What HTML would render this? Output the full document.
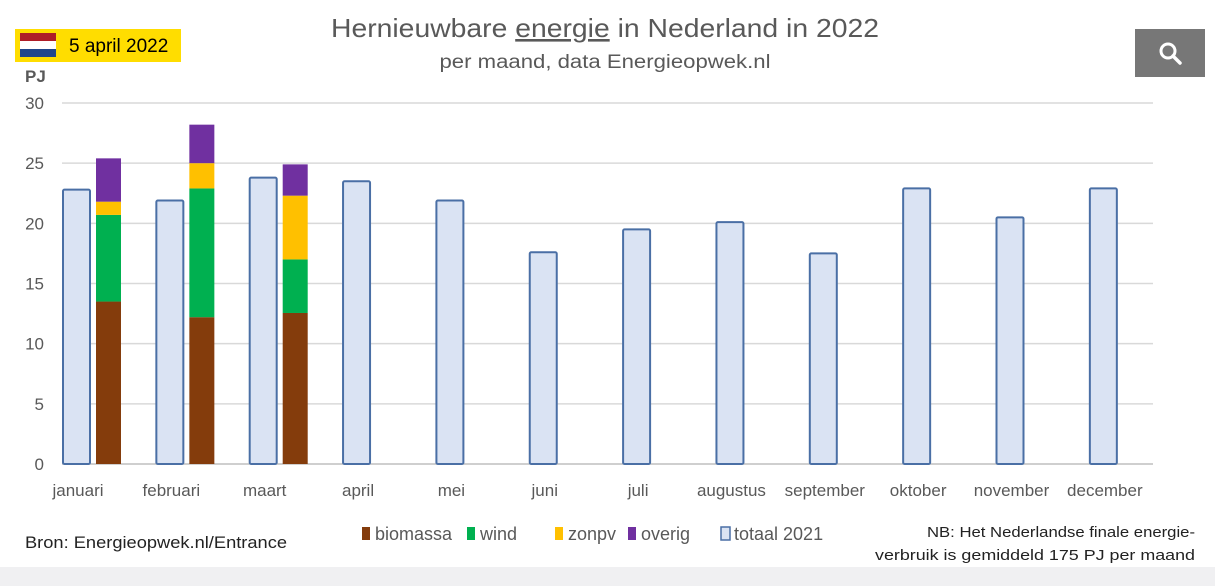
<!DOCTYPE html>
<html><head><meta charset="utf-8"><style>
html,body{margin:0;padding:0;background:#fff;width:1215px;height:586px;overflow:hidden;font-family:"Liberation Sans",sans-serif}
svg{position:absolute;left:0;top:0}
</style></head><body>
<svg width="1215" height="586" viewBox="0 0 1215 586">
<rect x="0" y="567" width="1215" height="19" fill="#f0f0f2"/>
<g>
<rect x="15" y="29" width="166" height="33" fill="#ffdd00"/>
<rect x="20" y="33" width="36" height="8" fill="#ae1c28"/>
<rect x="20" y="41" width="36" height="8" fill="#ffffff"/>
<rect x="20" y="49" width="36" height="8" fill="#21468b"/>
<text x="69" y="52" font-size="19" fill="#000">5 april 2022</text>
</g>
<g>
<rect x="1135" y="29" width="70" height="48" fill="#777"/>
<circle cx="1168" cy="51" r="7" fill="none" stroke="#fff" stroke-width="3"/>
<line x1="1173" y1="56" x2="1180" y2="63" stroke="#fff" stroke-width="3.5" stroke-linecap="round"/>
</g>
<text x="605" y="37" font-size="26" fill="#595959" text-anchor="middle" textLength="548" lengthAdjust="spacingAndGlyphs">Hernieuwbare <tspan text-decoration="underline">energie</tspan> in Nederland in 2022</text>
<text x="605" y="68" font-size="19" fill="#595959" text-anchor="middle" textLength="331" lengthAdjust="spacingAndGlyphs">per maand, data Energieopwek.nl</text>
<text x="25" y="82" font-size="17" font-weight="bold" fill="#595959">PJ</text>
<g id="grid"></g>
<g id="bars"></g>
<g id="xlabels"></g>
<g font-size="18" fill="#595959">
<rect x="362" y="527" width="8" height="13" fill="#843c0c"/><text x="375" y="540">biomassa</text>
<rect x="467" y="527" width="8" height="13" fill="#00b050"/><text x="480" y="540">wind</text>
<rect x="555" y="527" width="8" height="13" fill="#ffc000"/><text x="568" y="540">zonpv</text>
<rect x="628" y="527" width="8" height="13" fill="#7030a0"/><text x="641" y="540">overig</text>
<rect x="721" y="527" width="9" height="13" fill="#dae3f3" stroke="#4a6fa5" stroke-width="1.5"/><text x="734" y="540">totaal 2021</text>
</g>
<text x="25" y="548" font-size="17" fill="#222" textLength="262" lengthAdjust="spacingAndGlyphs">Bron: Energieopwek.nl/Entrance</text>
<text x="1195" y="537" font-size="15" fill="#222" text-anchor="end" textLength="268" lengthAdjust="spacingAndGlyphs">NB: Het Nederlandse finale energie-</text>
<text x="1195" y="560" font-size="15" fill="#222" text-anchor="end" textLength="320" lengthAdjust="spacingAndGlyphs">verbruik is gemiddeld 175 PJ per maand</text>
</svg>
<script>
const months=["januari","februari","maart","april","mei","juni","juli","augustus","september","oktober","november","december"];
const totaal2021=[22.8,21.9,23.8,23.5,21.9,17.6,19.5,20.1,17.5,22.9,20.5,22.9];
const biomassa=[13.5,12.2,12.55];
const wind=[7.2,10.7,4.45];
const zonpv=[1.1,2.1,5.3];
const overig=[3.6,3.2,2.6];
const yTicks=[0,5,10,15,20,25,30];
const NS="http://www.w3.org/2000/svg";
const y0=464,pxPer=(464-103)/30;
const y=v=>y0-v*pxPer;
const x=i=>78+i*93.35;
function mk(tag,attrs,parent){const e=document.createElementNS(NS,tag);for(const k in attrs)e.setAttribute(k,attrs[k]);parent.appendChild(e);return e;}
const grid=document.getElementById('grid'),bars=document.getElementById('bars'),xl=document.getElementById('xlabels');
yTicks.forEach(t=>{
 const l=mk('line',{x1:62,x2:1153,y1:y(t),y2:y(t),stroke:t===0?'#bfbfbf':'#d9d9d9','stroke-width':1.5},grid);
 
 
 const tx=mk('text',{x:44,y:y(t)+6,'font-size':17,fill:'#595959','text-anchor':'end'},grid);
 tx.textContent=t;
 
 
});
months.forEach((m,i)=>{
 const c=x(i);
 const r=mk('rect',{x:c-15,y:y(totaal2021[i]),width:27,height:totaal2021[i]*pxPer,fill:'#dae3f3',stroke:'#4a6fa5','stroke-width':2,rx:1.5},bars);
 
 
 const t=mk('text',{x:c,y:496,'font-size':17,fill:'#595959','text-anchor':'middle'},xl);
 t.textContent=m;
 
 
});
const series=[[biomassa,'#843c0c','biomassa'],[wind,'#00b050','wind'],[zonpv,'#ffc000','zonpv'],[overig,'#7030a0','overig']];
for(let i=0;i<biomassa.length;i++){
 let base=0;
 series.forEach(([arr,col,nm])=>{
  const v=arr[i];
  const r=mk('rect',{x:x(i)+18,y:y(base+v),width:25,height:v*pxPer,fill:col},bars);
  
  
  base+=v;
 });
}
</script>
</body></html>
